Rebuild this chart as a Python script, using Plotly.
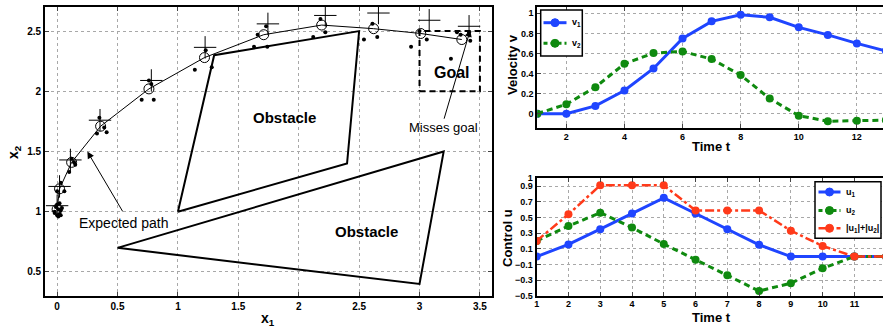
import plotly.graph_objects as go

# ---------------- data ----------------
# left panel: state-space trajectory
path_x = [0.0, 0.02, 0.12, 0.36, 0.76, 1.22, 1.71, 2.19, 2.62, 3.01, 3.35]
path_y = [1.02, 1.19, 1.41, 1.71, 2.02, 2.28, 2.47, 2.55, 2.52, 2.48, 2.43]
plus_x = [0.0, 0.02, 0.11, 0.355, 0.78, 1.225, 1.745, 2.22, 2.66, 3.08, 3.41]
plus_y = [1.05, 1.21, 1.43, 1.76, 2.09, 2.365, 2.56, 2.63, 2.65, 2.59, 2.54]
dots_x = [-0.02, 0.0, 0.01, 0.02, -0.01, 0.03, 0.0, 0.02, -0.02, 0.01, 0.04, 0.03,
          0.0, 0.06, 0.03, 0.10, 0.14, 0.12, 0.15,
          0.33, 0.35, 0.41, 0.39, 0.70, 0.80, 0.76, 0.78,
          1.14, 1.23, 1.28, 1.63, 1.74, 1.73, 1.66,
          2.12, 2.22, 2.18, 2.54, 2.65, 2.61,
          2.93, 3.00, 3.06, 3.26, 3.31, 3.34, 3.42, 3.41]
dots_y = [1.00, 0.97, 1.02, 0.98, 1.04, 1.01, 1.06, 1.07, 0.99, 0.96, 1.03, 0.97,
          1.17, 1.17, 1.24, 1.33, 1.41, 1.44, 1.39,
          1.65, 1.78, 1.66, 1.70, 1.93, 1.93, 2.09, 2.06,
          2.18, 2.34, 2.20, 2.37, 2.37, 2.54, 2.47,
          2.45, 2.49, 2.60, 2.43, 2.45, 2.56,
          2.37, 2.50, 2.43, 2.27, 2.49, 2.47, 2.42, 2.49]
obst1_x = [1.0, 1.3, 2.5, 2.4, 1.0]
obst1_y = [1.0, 2.3, 2.5, 1.4, 1.0]
obst2_x = [0.5, 3.2, 3.0, 0.5]
obst2_y = [0.7, 1.5, 0.4, 0.7]
goal_x = [3.0, 3.5, 3.5, 3.0, 3.0]
goal_y = [2.0, 2.0, 2.5, 2.5, 2.0]

# top right: velocity
t_v = [1, 2, 3, 4, 5, 6, 7, 8, 9, 10, 11, 12, 13]
v1 = [0.0, 0.0, 0.077, 0.23, 0.45, 0.75, 0.92, 0.985, 0.96, 0.86, 0.785, 0.70, 0.625]
v2 = [0.0, 0.094, 0.264, 0.497, 0.604, 0.62, 0.544, 0.384, 0.15, -0.02, -0.076, -0.07, -0.065]
v_names = ["v<sub>1</sub>", "v<sub>2</sub>"]

# bottom right: control
t_u = [1, 2, 3, 4, 5, 6, 7, 8, 9, 10, 11, 12]
u1 = [0.0, 0.155, 0.35, 0.55, 0.75, 0.55, 0.35, 0.15, 0.0, 0.0, 0.0, 0.0]
u2 = [0.2, 0.39, 0.56, 0.37, 0.16, -0.04, -0.24, -0.44, -0.34, -0.15, 0.0, 0.0]
usum = [0.2, 0.54, 0.91, 0.91, 0.91, 0.59, 0.59, 0.59, 0.33, 0.135, 0.0, 0.0]
u_names = ["u<sub>1</sub>", "u<sub>2</sub>", "|u<sub>1</sub>|+|u<sub>2</sub>|"]

BLUE = "#1f45ff"
GREEN = "#0f8a0f"
RED = "#ff3a1a"
FONT = "Liberation Sans, Arial, sans-serif"
W, H = 883, 329
DASH_G = "6px,4px"
DASH_R = "dashdot"


def px(x):
    return x / W


def py(y):
    return 1 - y / H


fig = go.Figure()

# ---- left panel ----
for ox, oy in [(obst1_x, obst1_y), (obst2_x, obst2_y)]:
    fig.add_trace(go.Scatter(x=ox, y=oy, mode="lines", line=dict(color="black", width=2),
                             showlegend=False, xaxis="x", yaxis="y", hoverinfo="skip"))
fig.add_trace(go.Scatter(x=goal_x, y=goal_y, mode="lines",
                         line=dict(color="black", width=2, dash="6px,4px"),
                         showlegend=False, xaxis="x", yaxis="y"))
fig.add_trace(go.Scatter(x=dots_x, y=dots_y, mode="markers",
                         marker=dict(color="black", size=4),
                         showlegend=False, xaxis="x", yaxis="y"))
fig.add_trace(go.Scatter(x=path_x, y=path_y, mode="lines+markers",
                         line=dict(color="black", width=1),
                         marker=dict(symbol="circle-open", size=10, color="black", line=dict(width=1)),
                         showlegend=False, xaxis="x", yaxis="y"))
fig.add_trace(go.Scatter(x=plus_x, y=plus_y, mode="markers",
                         marker=dict(symbol="cross-thin-open", size=16, color="black", line=dict(width=1, color="black")),
                         showlegend=False, xaxis="x", yaxis="y"))

# ---- top right ----
fig.add_trace(go.Scatter(x=t_v, y=v1, mode="lines+markers", name=v_names[0],
                         line=dict(color=BLUE, width=3), marker=dict(size=8, color=BLUE),
                         xaxis="x2", yaxis="y2", showlegend=False))
fig.add_trace(go.Scatter(x=t_v, y=v2, mode="lines+markers", name=v_names[1],
                         line=dict(color=GREEN, width=3, dash=DASH_G), marker=dict(size=8, color=GREEN),
                         xaxis="x2", yaxis="y2", showlegend=False))

# ---- bottom right ----
fig.add_trace(go.Scatter(x=t_u, y=u1, mode="lines+markers", name=u_names[0],
                         line=dict(color=BLUE, width=3), marker=dict(size=8, color=BLUE),
                         xaxis="x3", yaxis="y3", showlegend=False))
fig.add_trace(go.Scatter(x=t_u, y=u2, mode="lines+markers", name=u_names[1],
                         line=dict(color=GREEN, width=3, dash=DASH_G), marker=dict(size=8, color=GREEN),
                         xaxis="x3", yaxis="y3", showlegend=False))
fig.add_trace(go.Scatter(x=t_u, y=usum, mode="lines+markers", name=u_names[2],
                         line=dict(color=RED, width=2.5, dash=DASH_R), marker=dict(size=8, color=RED),
                         xaxis="x3", yaxis="y3", showlegend=False))


def axis_style(fs):
    return dict(showgrid=True, gridcolor="#a8a8a8", griddash="dot", gridwidth=1, zeroline=False,
                showline=True, linecolor="black", linewidth=2,
                ticks="inside", ticklen=4, tickwidth=1, tickcolor="#444",
                tickfont=dict(family=FONT, size=fs, color="black", weight="bold"),
                automargin=False)


# ---- manual legends (pixel-placed boxes) ----
shapes = []
annotations = []


def legend_box(x0, y0, x1, y1):
    shapes.append(dict(type="rect", xref="paper", yref="paper", x0=px(x0), x1=px(x1),
                       y0=py(y1), y1=py(y0), fillcolor="white",
                       line=dict(color="black", width=1.5), layer="above"))


def legend_item(yc, xl0, xl1, color, dash, width, label, fs):
    shapes.append(dict(type="line", xref="paper", yref="paper", x0=px(xl0), x1=px(xl1),
                       y0=py(yc), y1=py(yc), line=dict(color=color, width=width, dash=dash),
                       layer="above"))
    cx, r = (xl0 + xl1) / 2, 4
    shapes.append(dict(type="circle", xref="paper", yref="paper", x0=px(cx - r), x1=px(cx + r),
                       y0=py(yc + r), y1=py(yc - r), fillcolor=color,
                       line=dict(color=color, width=1), layer="above"))
    annotations.append(dict(x=px(xl1 + 3), y=py(yc), xref="paper", yref="paper", text="<b>%s</b>" % label,
                            xanchor="left", yanchor="middle", showarrow=False,
                            font=dict(family=FONT, size=fs, color="black")))


legend_box(540.7, 10, 582.3, 56)
legend_item(22.7, 543.5, 566.5, BLUE, "solid", 3, v_names[0], 9)
legend_item(43.3, 543.5, 566.5, GREEN, "4px,3px", 3, v_names[1], 9)

legend_box(815, 181.7, 881, 238.3)
legend_item(192, 818.5, 840.5, BLUE, "solid", 3, u_names[0], 9)
legend_item(210.5, 818.5, 840.5, GREEN, "4px,3px", 3, u_names[1], 9)
legend_item(228.3, 818.5, 840.5, RED, "dashdot", 2.5, u_names[2], 9)

# ---- axis titles ----
def title(text, x, y, fs, angle=0):
    annotations.append(dict(x=px(x), y=py(y), xref="paper", yref="paper", text="<b>%s</b>" % text,
                            showarrow=False, textangle=angle, xanchor="center", yanchor="middle",
                            font=dict(family=FONT, size=fs, color="black")))


title("x<sub>1</sub>", 268, 319, 14)
title("x<sub>2</sub>", 14, 152, 14, -90)
title("Time t", 711, 146, 13)
title("Velocity v", 512, 65, 13, -90)
title("Time t", 711, 317, 13)
title("Control u", 507, 238, 13, -90)

# ---- in-plot labels ----
annotations += [
    dict(x=1.885, y=1.78, xref="x", yref="y", text="<b>Obstacle</b>", showarrow=False,
         font=dict(family=FONT, size=15, color="black")),
    dict(x=2.56, y=0.835, xref="x", yref="y", text="<b>Obstacle</b>", showarrow=False,
         font=dict(family=FONT, size=15, color="black")),
    dict(x=3.27, y=2.16, xref="x", yref="y", text="<b>Goal</b>", showarrow=False,
         font=dict(family=FONT, size=16, color="black")),
    dict(x=3.2, y=1.70, xref="x", yref="y", text="Misses goal", showarrow=False,
         font=dict(family=FONT, size=13, color="black")),
    dict(x=0.553, y=0.91, xref="x", yref="y", text="Expected path", showarrow=False,
         font=dict(family=FONT, size=14, color="black")),
    dict(x=3.42, y=2.51, ax=3.2, ay=1.76, xref="x", yref="y", axref="x", ayref="y", text="",
         showarrow=True, arrowhead=2, arrowsize=1.4, arrowwidth=1, arrowcolor="black"),
    dict(x=0.25, y=1.5, ax=0.55, ay=0.99, xref="x", yref="y", axref="x", ayref="y", text="",
         showarrow=True, arrowhead=2, arrowsize=1.4, arrowwidth=1, arrowcolor="black"),
]

fig.update_layout(
    width=W, height=H, margin=dict(l=0, r=0, t=0, b=0, autoexpand=False),
    paper_bgcolor="white", plot_bgcolor="white", showlegend=False,
    font=dict(family=FONT, color="black"),
    xaxis=dict(domain=[0.051, 0.5572], range=[-0.1, 3.6], tickvals=[0, 0.5, 1, 1.5, 2, 2.5, 3, 3.5],
               ticktext=["0", "0.5", "1", "1.5", "2", "2.5", "3", "3.5"], mirror="ticks", **axis_style(10)),
    yaxis=dict(domain=[0.1003, 0.9787], range=[0.3, 2.7], tickvals=[0.5, 1, 1.5, 2, 2.5],
               ticktext=["0.5", "1", "1.5", "2", "2.5"], mirror="ticks", **axis_style(10)),
    xaxis2=dict(domain=[0.6085, 1.0], range=[1, 12.9], tickvals=[2, 4, 6, 8, 10, 12], anchor="y2",
                mirror="ticks", **axis_style(9)),
    yaxis2=dict(domain=[0.6119, 0.9778], range=[-0.14, 1.06], tickvals=[0, 0.2, 0.4, 0.6, 0.8, 1],
                ticktext=["0", "0.2", "0.4", "0.6", "0.8", "1"], anchor="x2", **axis_style(9)),
    xaxis3=dict(domain=[0.6078, 1.0], range=[1, 11.9], tickvals=list(range(1, 12)), anchor="y3",
                mirror="ticks", ticklabelstandoff=-2, **axis_style(9)),
    yaxis3=dict(domain=[0.1012, 0.4581], range=[-0.5, 1.0],
                tickvals=[-0.5, -0.3, -0.1, 0.1, 0.3, 0.5, 0.7, 0.9, 1.0],
                ticktext=["\u22120.5", "\u22120.3", "\u22120.1", "0.1", "0.3", "0.5", "0.7", "0.9", "1"],
                anchor="x3", **axis_style(9)),
    shapes=shapes,
    annotations=annotations,
)

fig.write_html("out.html", config={"displayModeBar": False},
               post_script="document.body.style.margin='0px';document.body.style.overflow='hidden';")
